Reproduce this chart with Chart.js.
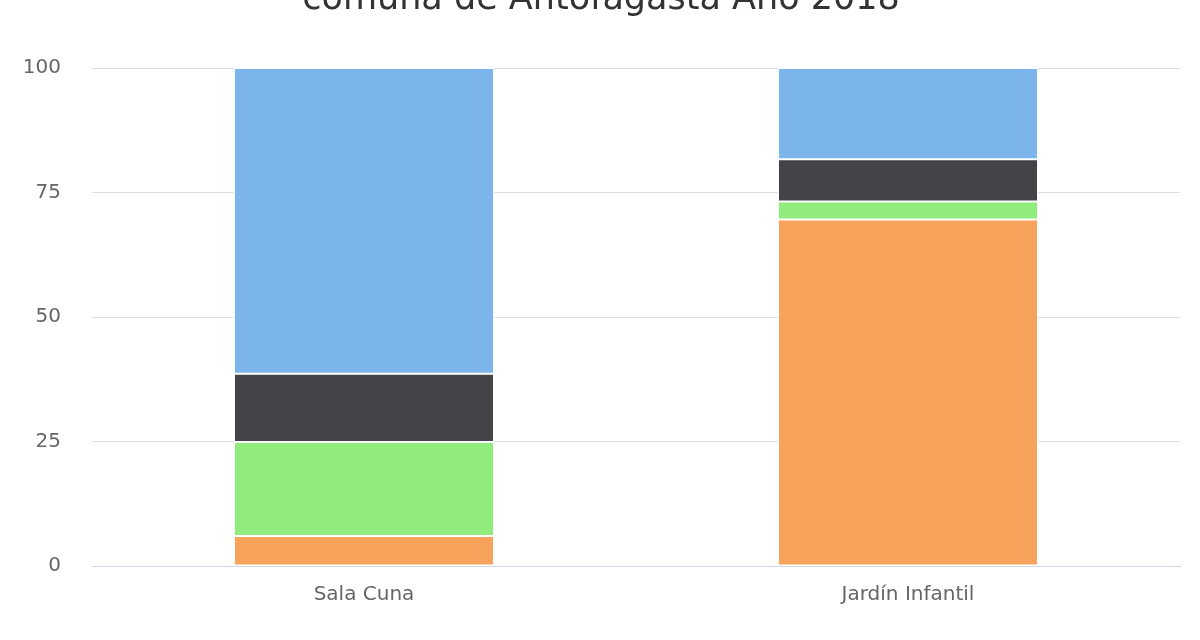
<!DOCTYPE html>
<html>
<head>
<meta charset="utf-8">
<script src="https://cdn.jsdelivr.net/npm/chart.js@4"></script>
<style>
  html, body { margin: 0; padding: 0; background: #fff; overflow: hidden; }
  #wrap { position: relative; width: 1200px; height: 680px; margin-top: -40px; }
</style>
</head>
<body>
<div id="wrap"><canvas id="chart"></canvas></div>
<script>
// categories and stacked shares (percent), bottom segment first
const categories = ['Sala Cuna', 'Jardín Infantil']
const orangeValues = [6.0, 69.6]
const greenValues = [18.9, 3.6]
const darkValues = [13.7, 8.5]
const blueValues = [61.4, 18.3]
const yTicks = [0, 25, 50, 75, 100]

const font = "'DejaVu Sans', sans-serif"

new Chart(document.getElementById('chart'), {
  type: 'bar',
  data: {
    labels: categories,
    datasets: [
      { data: orangeValues, backgroundColor: '#f7a35c' },
      { data: greenValues, backgroundColor: '#90ed7d' },
      { data: darkValues, backgroundColor: '#434348' },
      { data: blueValues, backgroundColor: '#7cb5ec' }
    ].map(d => Object.assign(d, {
      borderColor: '#ffffff',
      borderWidth: 1,
      borderSkipped: false,
      categoryPercentage: 1,
      barPercentage: 0.478
    }))
  },
  options: {
    animation: false,
    responsive: true,
    maintainAspectRatio: false,
    layout: { padding: { left: 22, right: 20, top: 0, bottom: 24 } },
    plugins: {
      legend: { display: false },
      tooltip: { enabled: false },
      title: {
        display: true,
        text: 'comuna de Antofagasta Año 2018',
        color: '#333333',
        font: { family: font, size: 35, weight: 'normal' },
        padding: { top: 19, bottom: 47 }
      }
    },
    scales: {
      x: {
        stacked: true,
        grid: { display: false },
        border: { color: '#ccd6eb', width: 1 },
        ticks: { color: '#666666', font: { family: font, size: 20 }, padding: 9 }
      },
      y: {
        stacked: true,
        min: 0,
        max: 100,
        afterBuildTicks: axis => { axis.ticks = yTicks.map(v => ({ value: v })) },
        afterFit: axis => { axis.width = 70 },
        grid: { color: '#e0e0e0', drawTicks: false },
        border: { display: false },
        ticks: { color: '#666666', font: { family: font, size: 20 }, padding: 31 }
      }
    }
  }
})
</script>
</body>
</html>
